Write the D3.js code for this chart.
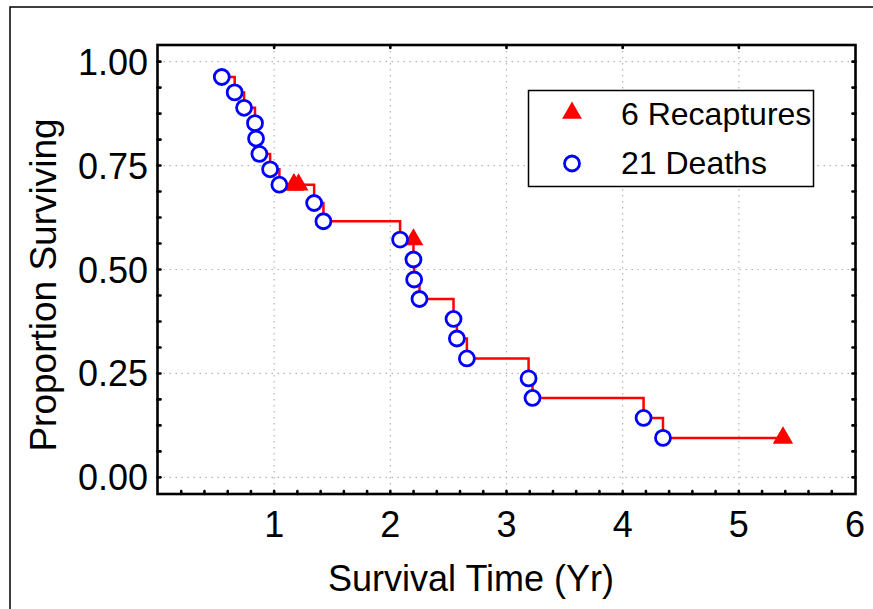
<!DOCTYPE html>
<html><head><meta charset="utf-8">
<script src="https://cdn.jsdelivr.net/npm/d3@7/dist/d3.min.js"></script>
<style>
html,body{margin:0;padding:0;background:#fff;}
svg{display:block;}
text{font-family:"Liberation Sans",Arial,sans-serif;fill:#000;}
</style></head>
<body><svg id="c" width="873" height="609"></svg>
<script>
// Kaplan-Meier survival data
const deathTimes = [0.549,0.660,0.741,0.835,0.844,0.873,0.965,1.045,1.344,1.424,2.084,2.199,2.205,2.251,2.544,2.573,2.659,3.190,3.224,4.180,4.347];
const deathSurv  = [0.963,0.926,0.889,0.852,0.815,0.778,0.741,0.704,0.660,0.616,0.572,0.524,0.476,0.429,0.381,0.334,0.286,0.238,0.191,0.143,0.095];
const recapTimes = [1.17,1.17,1.21,2.199,5.38,5.38];
const recapSurv  = [0.704,0.704,0.704,0.572,0.095,0.095];
const xTicks = [1,2,3,4,5,6];
const yTicks = [0,0.25,0.5,0.75,1];
const legendLabels = ["6 Recaptures","21 Deaths"];
const xLabel = "Survival Time (Yr)";
const yLabel = "Proportion Surviving";

const svg = d3.select("#c");
const L=157.5, R=855.5, T=45, B=494;
const x = d3.scaleLinear().domain([0,6]).range([158,855]);
const y = d3.scaleLinear().domain([-0.04,1.04]).range([B,T]);

// outer frame
svg.append("rect").attr("x",10).attr("y",7).attr("width",900).attr("height",700)
  .attr("fill","none").attr("stroke","#000").attr("stroke-width",1.5);

// grid
const grid = svg.append("g").attr("stroke","#b4b4b4").attr("stroke-width",1.2).attr("stroke-dasharray","1.5,4.5");
grid.selectAll(".gx").data(xTicks.filter(d=>d<6)).join("line")
  .attr("x1",d=>x(d)).attr("x2",d=>x(d)).attr("y1",T).attr("y2",B);
grid.selectAll(".gy").data(yTicks).join("line")
  .attr("x1",L).attr("x2",R).attr("y1",d=>y(d)).attr("y2",d=>y(d));

// minor/major ticks (inward)
const ticks = svg.append("g").attr("stroke","#000").attr("stroke-width",2.6).attr("stroke-linecap","round");
const xMinor = d3.range(1,30).map(i=>i*0.2);
ticks.selectAll(".xb").data(xMinor).join("line")
  .attr("x1",d=>x(d)).attr("x2",d=>x(d)).attr("y1",B).attr("y2",B-3);
ticks.selectAll(".xt").data(xTicks.filter(d=>d<6)).join("line")
  .attr("x1",d=>x(d)).attr("x2",d=>x(d)).attr("y1",T).attr("y2",T+3);
const yMinor = d3.range(0,17).map(i=>i*0.0625);
ticks.selectAll(".yl").data(yMinor).join("line")
  .attr("x1",L).attr("x2",L+3).attr("y1",d=>y(d)).attr("y2",d=>y(d));
ticks.selectAll(".yr").data(yMinor).join("line")
  .attr("x1",R).attr("x2",R-3).attr("y1",d=>y(d)).attr("y2",d=>y(d));

// plot frame
svg.append("rect").attr("x",L).attr("y",T).attr("width",R-L).attr("height",B-T)
  .attr("fill","none").attr("stroke","#000").attr("stroke-width",2.6);

// tick labels
svg.append("g").selectAll("text").data(xTicks).join("text")
  .attr("x",d=>x(d)).attr("y",537).attr("text-anchor","middle")
  .attr("font-size",36).text(d=>d);
svg.append("g").selectAll("text").data(yTicks).join("text")
  .attr("x",148).attr("y",d=>y(d)+13).attr("text-anchor","end")
  .attr("font-size",36).text(d=>d3.format(".2f")(d));

// axis labels
svg.append("text").attr("x",471).attr("y",591).attr("text-anchor","middle")
  .attr("font-size",36).text(xLabel);
svg.append("text").attr("transform","translate(56,285) rotate(-90)").attr("text-anchor","middle")
  .attr("font-size",37).text(yLabel);

// step line
const pts = deathTimes.map((t,i)=>({t,s:deathSurv[i]}))
  .concat(recapTimes.map((t,i)=>({t,s:recapSurv[i]})))
  .sort((a,b)=>a.t-b.t || b.s-a.s);
const line = d3.line().x(d=>x(d.t)).y(d=>y(d.s)).curve(d3.curveStepAfter);
svg.append("path").attr("d",line(pts)).attr("fill","none").attr("stroke","#ff0000").attr("stroke-width",2.5);

// markers
const tri = d3.symbol().type(d3.symbolTriangle).size(170);
svg.append("g").selectAll("path").data(recapTimes).join("path")
  .attr("d",tri).attr("fill","#ff0000")
  .attr("transform",(d,i)=>`translate(${x(d)},${y(recapSurv[i])})`);
svg.append("g").selectAll("circle").data(deathTimes).join("circle")
  .attr("cx",d=>x(d)).attr("cy",(d,i)=>y(deathSurv[i])).attr("r",7.5)
  .attr("fill","#fff").attr("stroke","#0000ff").attr("stroke-width",2.8);

// legend
const lg = svg.append("g");
lg.append("rect").attr("x",528.5).attr("y",90.5).attr("width",285).attr("height",96)
  .attr("fill","#fff").attr("stroke","#000").attr("stroke-width",1.5);
lg.append("path").attr("d",tri).attr("fill","#ff0000").attr("transform","translate(572,113)");
lg.append("circle").attr("cx",572).attr("cy",163.5).attr("r",7.5)
  .attr("fill","#fff").attr("stroke","#0000ff").attr("stroke-width",2.8);
lg.selectAll("text").data(legendLabels).join("text")
  .attr("x",621).attr("y",(d,i)=>125+i*48.5).attr("font-size",32).text(d=>d);
</script></body></html>
